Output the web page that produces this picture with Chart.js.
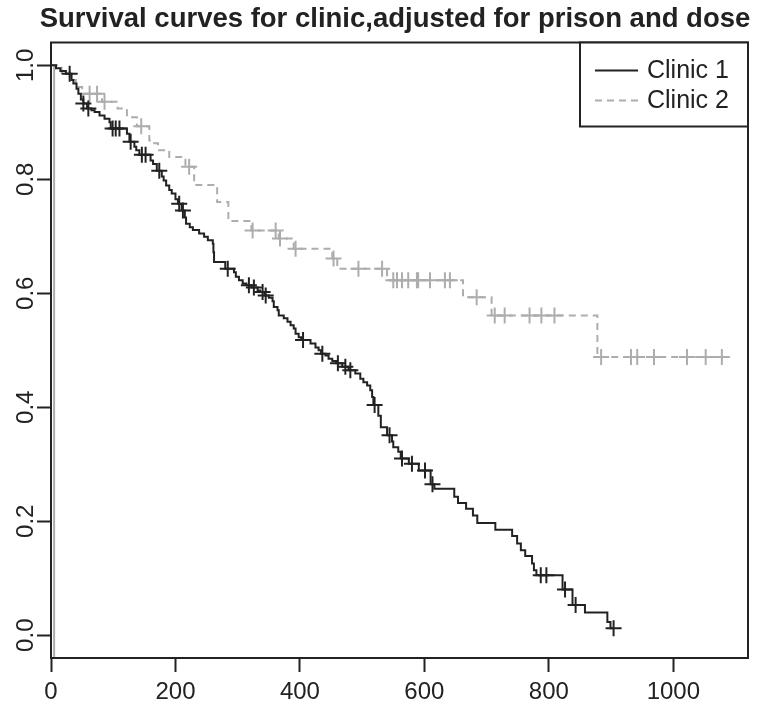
<!DOCTYPE html>
<html><head><meta charset="utf-8">
<script src="https://cdn.jsdelivr.net/npm/chart.js@4.4.0/dist/chart.umd.min.js"></script>
<style>html,body{margin:0;padding:0;background:#fff;}canvas{display:block;}</style>
</head><body>
<canvas id="c" width="758" height="706"></canvas>
<script>
const titleText = "Survival curves for clinic,adjusted for prison and dose";
const seriesNames = ["Clinic 1", "Clinic 2"];

// Clinic 1: step times and survival after each drop
const clinic1Times = [0,8,15,24,33,36,41,44,48,52,58,65,70,78,86,94,96,122,126,134,137,142,160,164,170,178,181,185,190,194,200,204,210,215,217,223,228,238,246,252,260,261,262,280,294,297,302,308,314,322,332,336,343,350,356,358,364,366,374,380,385,390,393,398,402,417,425,430,434,441,446,452,458,468,478,489,497,502,508,513,516,518,526,530,540,548,550,558,562,575,591,610,616,648,654,667,678,685,714,741,749,755,762,773,776,780,822,838,858,894,899,904];
const clinic1Surv  = [1.0,0.995,0.99,0.985,0.974,0.968,0.959,0.95,0.94,0.933,0.924,0.921,0.918,0.912,0.906,0.9,0.889,0.88,0.866,0.857,0.851,0.843,0.833,0.827,0.815,0.805,0.798,0.789,0.781,0.775,0.765,0.757,0.745,0.733,0.722,0.716,0.711,0.705,0.699,0.693,0.687,0.672,0.655,0.643,0.637,0.629,0.623,0.617,0.614,0.61,0.605,0.602,0.596,0.592,0.586,0.576,0.57,0.561,0.556,0.55,0.544,0.538,0.529,0.523,0.518,0.512,0.505,0.5,0.494,0.491,0.485,0.481,0.477,0.471,0.465,0.459,0.45,0.444,0.438,0.43,0.418,0.404,0.385,0.365,0.351,0.34,0.33,0.322,0.31,0.301,0.289,0.265,0.257,0.243,0.232,0.222,0.21,0.197,0.185,0.174,0.161,0.149,0.139,0.126,0.114,0.105,0.08,0.053,0.04,0.023,0.012,0.012];
const clinic1CensorTimes = [30,52,60,99,104,110,128,146,152,174,206,212,284,318,326,340,345,405,436,461,473,481,520,544,564,580,601,613,787,796,826,843,904];
const clinic1CensorSurv  = [0.985,0.933,0.924,0.889,0.889,0.889,0.866,0.843,0.843,0.815,0.757,0.745,0.643,0.614,0.61,0.602,0.596,0.518,0.494,0.477,0.471,0.465,0.404,0.351,0.31,0.301,0.289,0.265,0.105,0.105,0.08,0.053,0.012];

// Clinic 2
const clinic2Times = [0,17,30,40,50,82,107,122,138,158,166,172,190,216,230,267,285,322,366,390,452,460,540,662,708,878,1078];
const clinic2Surv  = [1.0,0.987,0.974,0.962,0.95,0.936,0.924,0.909,0.893,0.868,0.863,0.851,0.839,0.822,0.79,0.76,0.727,0.71,0.696,0.678,0.661,0.643,0.623,0.593,0.561,0.488,0.488];
const clinic2CensorTimes = [62,74,86,145,222,324,361,368,393,454,494,532,550,556,564,574,588,590,609,633,641,684,713,729,769,788,809,884,932,942,969,1022,1052,1078];
const clinic2CensorSurv  = [0.95,0.95,0.936,0.893,0.822,0.71,0.71,0.696,0.678,0.661,0.643,0.643,0.623,0.623,0.623,0.623,0.623,0.623,0.623,0.623,0.623,0.593,0.561,0.561,0.561,0.561,0.561,0.488,0.488,0.488,0.488,0.488,0.488,0.488];
// vertical grey drop drawn at the start of the clinic 2 curve
const clinic2StartTimes = [5,5];
const clinic2StartSurv  = [1.0,-0.04];

const xTicks = [0,200,400,600,800,1000];
const xTickLabels = ["0","200","400","600","800","1000"];
const yTicks = [0,0.2,0.4,0.6,0.8,1.0];
const yTickLabels = ["0.0","0.2","0.4","0.6","0.8","1.0"];

const pts = (xs, ys) => xs.map((x, i) => ({x: x, y: ys[i]}));
const INK = '#222222', GREY = '#adadad';
const FONT = "'Liberation Sans',Arial,sans-serif";

const boxPlugin = {
  id: 'box',
  afterDraw(chart) {
    const {ctx, chartArea: a} = chart;
    ctx.save();
    ctx.strokeStyle = INK; ctx.lineWidth = 2;
    ctx.strokeRect(a.left, a.top, a.right - a.left, a.bottom - a.top);
    // title
    ctx.fillStyle = INK;
    ctx.font = "bold 27.5px " + FONT;
    ctx.textAlign = 'center'; ctx.textBaseline = 'alphabetic';
    ctx.fillText(titleText, 395, 27);
    // legend
    const entries = chart.data.datasets.filter(d => d.inLegend);
    const w = 168, h = 84, x0 = a.right - w, y0 = a.top;
    ctx.fillStyle = '#fff'; ctx.fillRect(x0, y0, w, h);
    ctx.strokeRect(x0, y0, w, h);
    entries.forEach((d, i) => {
      const y = y0 + 28 + i * 30;
      ctx.strokeStyle = d.borderColor; ctx.lineWidth = d.borderWidth;
      ctx.setLineDash(d.borderDash || []);
      ctx.beginPath(); ctx.moveTo(x0 + 15, y); ctx.lineTo(x0 + 58, y); ctx.stroke();
      ctx.setLineDash([]);
      ctx.fillStyle = INK; ctx.font = "25px " + FONT;
      ctx.textAlign = 'left'; ctx.textBaseline = 'middle';
      ctx.fillText(d.label, x0 + 67, y + 1);
    });
    ctx.restore();
  }
};

const axisCommon = {
  grid: {drawOnChartArea: false, drawTicks: true, tickLength: 14, tickWidth: 2, tickColor: INK},
  border: {display: true, color: INK, width: 2}
};

new Chart(document.getElementById('c'), {
  type: 'scatter',
  data: {
    datasets: [
      {label: seriesNames[0], inLegend: true, data: pts(clinic1Times, clinic1Surv), showLine: true, stepped: 'before',
       borderColor: INK, borderWidth: 2, pointRadius: 0, order: 1},
      {label: seriesNames[0] + ' censored', data: pts(clinic1CensorTimes, clinic1CensorSurv), showLine: false,
       pointStyle: 'cross', pointRadius: 8, pointBorderWidth: 2, pointBorderColor: INK, borderColor: INK, order: 0},
      {label: seriesNames[1], inLegend: true, data: pts(clinic2Times, clinic2Surv), showLine: true, stepped: 'before',
       borderColor: GREY, borderWidth: 2, borderDash: [7, 5], pointRadius: 0, order: 3},
      {label: seriesNames[1] + ' censored', data: pts(clinic2CensorTimes, clinic2CensorSurv), showLine: false,
       pointStyle: 'cross', pointRadius: 8, pointBorderWidth: 2, pointBorderColor: GREY, borderColor: GREY, order: 2},
      {label: seriesNames[1] + ' start', data: pts(clinic2StartTimes, clinic2StartSurv), showLine: true,
       borderColor: GREY, borderWidth: 2, pointRadius: 0, order: 4, clip: 0}
    ]
  },
  options: {
    responsive: false, animation: false, devicePixelRatio: 1,
    layout: {padding: {top: 42.5, right: 7, left: 0, bottom: 0}},
    plugins: {legend: {display: false}, title: {display: false}, tooltip: {enabled: false}},
    scales: {
      x: Object.assign({
        type: 'linear', min: 0, max: 1120,
        afterBuildTicks: s => { s.ticks = xTicks.map(v => ({value: v})); },
        afterFit: s => { s.height = 48; },
        ticks: {callback: (v, i) => xTickLabels[i], autoSkip: false, maxRotation: 0, minRotation: 0,
                padding: 6, color: INK, font: {family: FONT, size: 24}}
      }, axisCommon),
      y: Object.assign({
        type: 'linear', min: -0.04, max: 1.04,
        afterBuildTicks: s => { s.ticks = yTicks.map(v => ({value: v})); },
        afterFit: s => { s.width = 51; },
        ticks: {callback: (v, i) => yTickLabels[i], autoSkip: false, minRotation: 90, maxRotation: 90,
                crossAlign: 'center', padding: -6, color: INK, font: {family: FONT, size: 24}}
      }, axisCommon)
    }
  },
  plugins: [boxPlugin]
});
</script>
</body></html>
